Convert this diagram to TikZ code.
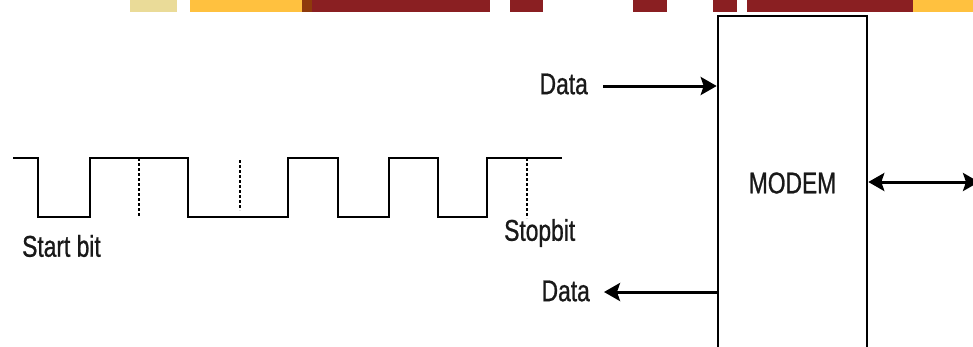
\documentclass[tikz,border=0pt]{standalone}
\usepackage{fontspec}
\setmainfont[FakeStretch=0.76,FakeBold=0.8]{Liberation Sans}
\usetikzlibrary{arrows.meta}
\definecolor{bannerred}{HTML}{8A1F22}
\definecolor{bannerorange}{HTML}{FFC13F}
\definecolor{bannerpale}{HTML}{EADB98}
\definecolor{bannerbrown}{HTML}{8E3A0C}
\tikzset{
  lbl/.style={inner sep=0pt, font=\fontsize{30}{33}\selectfont, text=black!90},
  wave/.style={line width=2.6pt, line join=miter},
  tick/.style={line width=2pt, dash pattern=on 2.5pt off 2.5pt},
  tip/.style={},
  arr/.style={line width=3pt, -{Stealth[length=16pt,width=18pt,inset=3pt]}},
  biarr/.style={line width=3pt, {Stealth[length=16pt,width=18pt,inset=3pt]}-{Stealth[length=16pt,width=18pt,inset=3pt]}},
  boxstyle/.style={draw, line width=2.6pt, minimum width=149pt, minimum height=334pt, inner sep=0pt}
}
\begin{document}
\begin{tikzpicture}[x=1pt,y=-1pt]
\useasboundingbox (0,0) rectangle (973,346);
\clip (0,0) rectangle (973,346);
% banner strip
\fill[bannerpale] (130,0) rectangle (177,12);
\fill[bannerorange] (190,0) rectangle (302,12);
\fill[bannerbrown] (302,0) rectangle (312,12);
\fill[bannerred] (312,0) rectangle (490,12);
\fill[bannerred] (510,0) rectangle (543,12);
\fill[bannerred] (633,0) rectangle (667,12);
\fill[bannerred] (713,0) rectangle (737,12);
\fill[bannerred] (747,0) rectangle (913,12);
\fill[bannerorange] (913,0) rectangle (973,12);
% waveform
\draw[wave] (13,158) -| (38,217) -| (90,158) -| (188,217) -| (288,158) -| (338,217)
  -| (389,158) -| (438,217) -| (487,158) -- (562,158);
\draw[tick] (139,158) -- (139,217);
\draw[tick] (240,160) -- (240,210);
\draw[tick] (527,158) -- (527,218);
\node[lbl, anchor=west] (startbit) at (22,246) {Start bit};
\node[lbl, anchor=west] (stopbit) at (504,233) {Stopbit};
% modem
\node[boxstyle] (modem) at (792.5,183) {};
\node[lbl] (modemtxt) at (modem.center) {MODEM};
\node[lbl, anchor=east] (datain) at (588,84) {Data};
\node[lbl, anchor=east] (dataout) at (590,291) {Data};
\coordinate (inA) at (603,86);
\coordinate (outB) at (604,292);
\coordinate (line) at (979,182);
\draw[arr] (inA) -- (inA -| modem.west);
\draw[arr] (outB -| modem.west) -- (outB);
\draw[biarr] (line -| modem.east) -- (line);
\end{tikzpicture}
\end{document}
